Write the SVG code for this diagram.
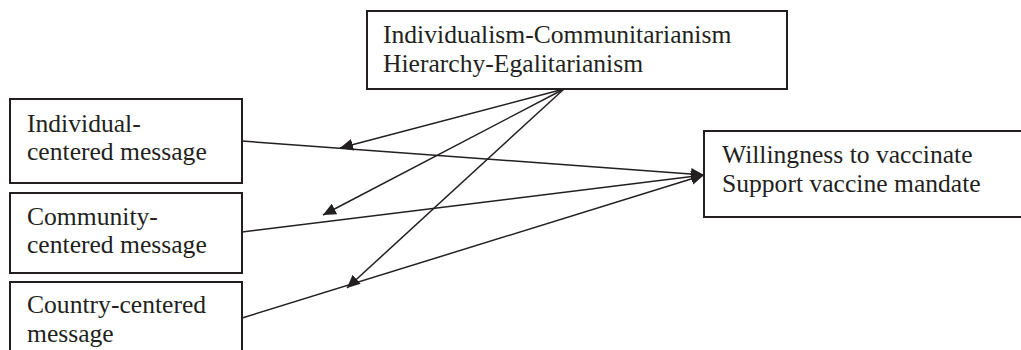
<svg xmlns="http://www.w3.org/2000/svg" width="1021" height="350" viewBox="0 0 1021 350">
<defs>
<style>
.box{fill:#fff;stroke:#231f20;stroke-width:2}
.t{font-family:"Liberation Serif","Times New Roman",serif;font-size:25.6px;fill:#231f20}
.c{stroke:#231f20;stroke-width:1.5;fill:none;marker-end:url(#ah)}
</style>
<marker id="ah" markerUnits="userSpaceOnUse" markerWidth="14" markerHeight="12" refX="13" refY="6" orient="auto">
<path d="M0,0 L13,6 L0,12 z" fill="#231f20"/>
</marker>
</defs>
<rect width="1021" height="350" fill="#fff"/>
<g id="connectors">
<line class="c" x1="242" y1="141" x2="704" y2="175"/>
<line class="c" x1="242" y1="232" x2="704" y2="175"/>
<line class="c" x1="242" y1="318" x2="704" y2="175"/>
<line class="c" x1="564" y1="89" x2="340" y2="148"/>
<line class="c" x1="564" y1="89" x2="323" y2="215"/>
<line class="c" x1="564" y1="89" x2="347" y2="288"/>
</g>
<g id="moderators">
<rect class="box" x="367" y="11" width="420" height="78"/>
<text class="t" x="383" y="43">Individualism-Communitarianism</text>
<text class="t" x="383" y="72">Hierarchy-Egalitarianism</text>
</g>
<g id="individual">
<rect class="box" x="10" y="99" width="232" height="84"/>
<text class="t" x="27" y="132">Individual-</text>
<text class="t" x="27" y="160">centered message</text>
</g>
<g id="community">
<rect class="box" x="10" y="193" width="232" height="80"/>
<text class="t" x="27" y="225">Community-</text>
<text class="t" x="27" y="253">centered message</text>
</g>
<g id="country">
<rect class="box" x="10" y="282" width="232" height="80"/>
<text class="t" x="27" y="313">Country-centered</text>
<text class="t" x="27" y="342">message</text>
</g>
<g id="outcome">
<rect class="box" x="704" y="131" width="330" height="86"/>
<text class="t" x="722" y="163">Willingness to vaccinate</text>
<text class="t" x="722" y="192">Support vaccine mandate</text>
</g>
</svg>
